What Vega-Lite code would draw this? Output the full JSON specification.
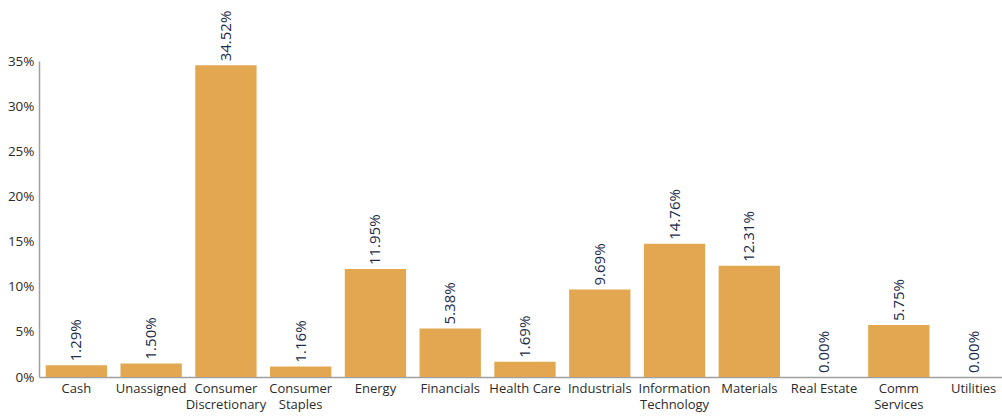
{
  "$schema": "https://vega.github.io/schema/vega-lite/v6.json",
  "autosize": {"type": "none"},
  "padding": {"left": 39, "top": 61, "right": 0, "bottom": 40},
  "width": 972,
  "height": 316,
  "background": "white",
  "data": {
    "values": [
      {"sector": "Cash", "weight": 1.29},
      {"sector": "Unassigned", "weight": 1.50},
      {"sector": "Consumer Discretionary", "weight": 34.52},
      {"sector": "Consumer Staples", "weight": 1.16},
      {"sector": "Energy", "weight": 11.95},
      {"sector": "Financials", "weight": 5.38},
      {"sector": "Health Care", "weight": 1.69},
      {"sector": "Industrials", "weight": 9.69},
      {"sector": "Information Technology", "weight": 14.76},
      {"sector": "Materials", "weight": 12.31},
      {"sector": "Real Estate", "weight": 0.00},
      {"sector": "Comm Services", "weight": 5.75},
      {"sector": "Utilities", "weight": 0.00}
    ]
  },
  "transform": [
    {"calculate": "format(datum.weight, '.2f') + '%'", "as": "label"}
  ],
  "config": {
    "view": {"stroke": null},
    "font": "Open Sans"
  },
  "encoding": {
    "x": {
      "field": "sector",
      "type": "nominal",
      "sort": null,
      "scale": {"paddingInner": 0.18, "paddingOuter": 0.09},
      "axis": {
        "title": null,
        "labelAngle": 0,
        "ticks": false,
        "domainColor": "#a0a0a0",
        "domainWidth": 1.5,
        "labelColor": "#2b2b2b",
        "labelFontSize": 13,
        "labelFontWeight": 500,
        "labelPadding": 5,
        "labelLineHeight": 16,
        "labelBaseline": "top",
        "labelExpr": "indexof(['Consumer Discretionary','Consumer Staples','Information Technology','Comm Services'], datum.label) >= 0 ? split(datum.label, ' ') : datum.label"
      }
    },
    "y": {
      "field": "weight",
      "type": "quantitative",
      "scale": {"domain": [0, 35], "nice": false},
      "axis": {
        "title": null,
        "values": [0, 5, 10, 15, 20, 25, 30, 35],
        "labelExpr": "datum.value + '%'",
        "grid": false,
        "ticks": false,
        "domainColor": "#a0a0a0",
        "domainWidth": 1.5,
        "labelColor": "#2b2b2b",
        "labelFontSize": 13.5,
        "labelFontWeight": 500,
        "labelPadding": 5
      }
    }
  },
  "layer": [
    {"mark": {"type": "bar", "color": "#E2A750"}},
    {
      "mark": {"type": "text", "angle": 270, "align": "left", "baseline": "middle", "dx": 4, "fontSize": 15, "fontWeight": 500, "color": "#1c2b4b"},
      "encoding": {"text": {"field": "label", "type": "nominal"}}
    }
  ]
}
